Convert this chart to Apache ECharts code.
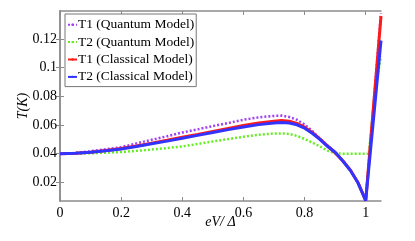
<!DOCTYPE html>
<html><head><meta charset="utf-8">
<script src="https://cdn.jsdelivr.net/npm/echarts@6/dist/echarts.min.js"></script>
<style>html,body{margin:0;padding:0;background:#fff}#c{width:415px;height:241px}</style>
</head><body><div id="c"></div>
<script>
const xs = [0,0.05,0.1,0.15,0.2,0.25,0.3,0.35,0.4,0.45,0.5,0.55,0.6,0.65,0.7,0.725,0.75,0.775,0.8,0.825,0.85,0.875,0.9,0.925,0.95,0.975,1.0,1.01,1.03,1.05];
const t1Quantum = [0.0400,0.0405,0.0417,0.0431,0.0446,0.0472,0.0497,0.0522,0.0548,0.0570,0.0593,0.0614,0.0637,0.0654,0.0664,0.0666,0.0656,0.0637,0.0604,0.0560,0.0505,0.0457,0.0412,0.0353,0.0287,0.0199,0.0075,0.0336,0.0858,0.138];
const t2Quantum = [0.0400,0.0401,0.0403,0.0407,0.0412,0.0420,0.0429,0.0439,0.0451,0.0468,0.0486,0.0502,0.0518,0.0532,0.0541,0.0542,0.0538,0.0524,0.0503,0.0478,0.0451,0.0422,0.0403,0.0400,0.0400,0.0400,0.0400,0.0400,0.0830,0.108];
const t1Classical = [0.0400,0.0403,0.0411,0.0422,0.0436,0.0454,0.0474,0.0494,0.0515,0.0535,0.0556,0.0577,0.0597,0.0615,0.0627,0.0631,0.0627,0.0612,0.0585,0.0548,0.0503,0.0455,0.0406,0.0351,0.0285,0.0197,0.0073,0.0330,0.0845,0.136];
const t2Classical = [0.0400,0.0403,0.0410,0.0420,0.0433,0.0450,0.0469,0.0488,0.0508,0.0528,0.0548,0.0568,0.0587,0.0603,0.0614,0.0617,0.0614,0.0602,0.0578,0.0543,0.0500,0.0452,0.0410,0.0349,0.0283,0.0195,0.0072,0.0296,0.0743,0.119];
const seriesNames = ['T1 (Quantum Model)','T2 (Quantum Model)','T1 (Classical Model)','T2 (Classical Model)'];
const xTicks = [0,0.2,0.4,0.6,0.8,1];
const yTicks = [0.02,0.04,0.06,0.08,0.1,0.12];

const pair = arr => xs.map((x,i)=>[x,arr[i]]);
const font = 'Liberation Serif';
const axisCol = '#8c8c8c';
const dotIcon = 'path://M0,0h2v2h-2z M4,0h2v2h-2z M8,0h2v2h-2z';
const solidIcon = 'rect';
const chart = echarts.init(document.getElementById('c'), null, {renderer:'canvas'});
const baseX = {type:'value', min:0, max:1.05,
  axisLine:{show:true, lineStyle:{color:axisCol, width:1.5}},
  axisTick:{show:true, inside:true, length:4, customValues:xTicks, lineStyle:{color:axisCol}},
  splitLine:{show:false}};
const baseY = {type:'value', min:0.007, max:0.1396,
  axisLine:{show:true, lineStyle:{color:axisCol, width:1.5}},
  axisTick:{show:true, inside:true, length:4, customValues:yTicks, lineStyle:{color:axisCol}},
  splitLine:{show:false}};
const mk = (i, data, color, dotted, z) => ({
  name:seriesNames[i], type:'line', data:pair(data), showSymbol:false, symbol:'none', smooth:false, z:z,
  legendIcon: dotted ? dotIcon : solidIcon,
  itemStyle:{color:color},
  lineStyle: dotted ? {color:color, width:2.5, type:[2,2]} : {color:color, width:3}
});
chart.setOption({
  animation:false,
  backgroundColor:'#fff',
  grid:{left:60, right:34, top:11, bottom:40},
  legend:{orient:'vertical', left:65, top:14, itemWidth:9, itemHeight:3, itemGap:2,
    backgroundColor:'#fff', borderColor:'#777', borderWidth:1, padding:[3,2,2,2],
    textStyle:{fontFamily:font, fontSize:13.5, lineHeight:15.4, color:'#000', padding:[0,0,0,-4]},
    data:seriesNames},
  xAxis:[
    Object.assign({}, baseX, {position:'bottom',
      name:'eV/ Δ', nameLocation:'middle', nameGap:14, nameMoveOverlap:false,
      nameTextStyle:{fontFamily:font, fontStyle:'italic', fontSize:14, color:'#000'},
      axisLabel:{customValues:xTicks, fontFamily:font, fontSize:14, color:'#000', margin:5,
        formatter:v=>String(+v.toFixed(2))}}),
    Object.assign({}, baseX, {position:'top', axisLabel:{show:false}})
  ],
  yAxis:[
    Object.assign({}, baseY, {position:'left',
      name:'T(K)', nameLocation:'middle', nameGap:30, nameRotate:90, nameMoveOverlap:false,
      nameTextStyle:{fontFamily:font, fontStyle:'italic', fontSize:14, color:'#000'},
      axisLabel:{customValues:yTicks, fontFamily:font, fontSize:14, color:'#000', margin:3,
        formatter:v=>String(+v.toFixed(2))}}),
    Object.assign({}, baseY, {position:'right', axisLabel:{show:false}})
  ],
  series:[
    mk(0, t1Quantum, '#a040f5', true, 1),
    mk(1, t2Quantum, '#66ee22', true, 1),
    mk(2, t1Classical, '#ff1a1a', false, 2),
    mk(3, t2Classical, '#3333ff', false, 3)
  ]
});
</script></body></html>
